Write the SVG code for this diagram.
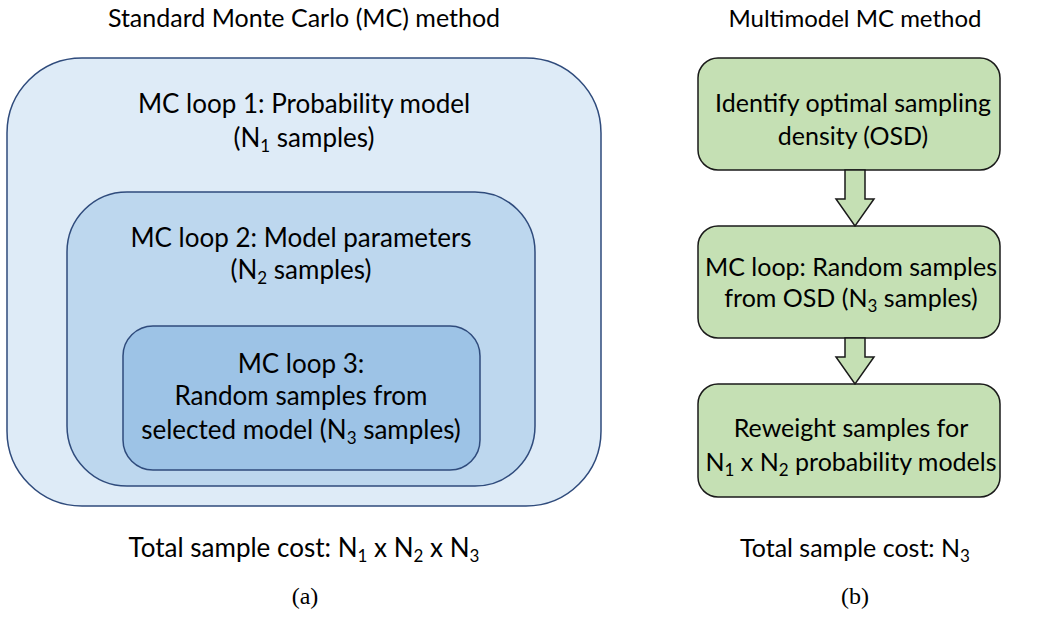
<svg xmlns="http://www.w3.org/2000/svg" width="1048" height="632" viewBox="0 0 1048 632">
<style>
.t{font-family:Lato,"Liberation Sans",Arial,sans-serif;font-size:26px;fill:#000;text-anchor:middle}
.g{font-size:25px}
.cap{font-family:"Liberation Serif","DejaVu Serif",serif;font-size:24px;fill:#000;text-anchor:middle}
.s{font-size:17px}
.blue{stroke:#2F4B7C;stroke-width:1.5}
.green{fill:#C5E0B4;stroke:#1a1a1a;stroke-width:1.5}
</style>
<rect width="1048" height="632" fill="#fff"/>
<text class="t" x="304" y="27" style="font-size:25px">Standard Monte Carlo (MC) method</text>
<g id="loop1">
<rect class="blue" x="7" y="58" width="594" height="448" rx="75" fill="#DEEBF7"/>
<text class="t" x="304" y="113">MC loop 1: Probability model</text>
<text class="t" x="304" y="147">(N<tspan class="s" dy="5">1</tspan><tspan dy="-5"> samples)</tspan></text>
</g>
<g id="loop2">
<rect class="blue" x="67" y="192" width="468" height="294" rx="60" fill="#BDD7EE"/>
<text class="t" x="301" y="247">MC loop 2: Model parameters</text>
<text class="t" x="301" y="279">(N<tspan class="s" dy="5">2</tspan><tspan dy="-5"> samples)</tspan></text>
</g>
<g id="loop3">
<rect class="blue" x="123" y="326" width="357" height="144" rx="30" fill="#9DC3E6"/>
<text class="t" x="301" y="373">MC loop 3:</text>
<text class="t" x="301" y="405">Random samples from</text>
<text class="t" x="301" y="439">selected model (N<tspan class="s" dy="5">3</tspan><tspan dy="-5"> samples)</tspan></text>
</g>
<text class="t" x="304" y="557" style="font-size:26px">Total sample cost: N<tspan class="s" dy="5">1</tspan><tspan dy="-5"> x N</tspan><tspan class="s" dy="5">2</tspan><tspan dy="-5"> x N</tspan><tspan class="s" dy="5">3</tspan></text>
<text class="cap" x="305" y="604">(a)</text>

<text class="t" x="855" y="27" style="font-size:24px">Multimodel MC method</text>
<g id="osd">
<rect class="green" x="698" y="58" width="302" height="112" rx="20"/>
<text class="t g" x="853" y="112">Identify optimal sampling</text>
<text class="t g" x="853" y="145">density (OSD)</text>
</g>
<g id="mcloop">
<rect class="green" x="698" y="226" width="302" height="112" rx="20"/>
<text class="t g" x="851" y="276">MC loop: Random samples</text>
<text class="t g" x="851" y="307">from OSD (N<tspan class="s" dy="5">3</tspan><tspan dy="-5"> samples)</tspan></text>
</g>
<g id="reweight">
<rect class="green" x="698" y="384" width="302" height="113" rx="20"/>
<text class="t g" x="851" y="437">Reweight samples for</text>
<text class="t g" x="851" y="471">N<tspan class="s" dy="5">1</tspan><tspan dy="-5"> x N</tspan><tspan class="s" dy="5">2</tspan><tspan dy="-5"> probability models</tspan></text>
</g>
<g id="connectors">
<path class="green" d="M845,170 V199 H836 L855,226 L874,199 H865 V170 Z"/>
<path class="green" d="M845,338 V357 H836 L855,384 L874,357 H865 V338 Z"/>
</g>
<text class="t" x="855" y="557" style="font-size:25px">Total sample cost: N<tspan class="s" dy="5">3</tspan></text>
<text class="cap" x="855" y="604">(b)</text>
</svg>
